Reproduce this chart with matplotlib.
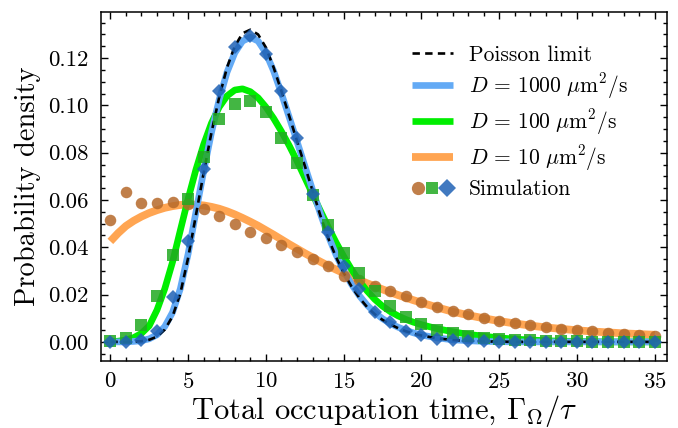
import matplotlib
matplotlib.use("Agg")
import matplotlib.pyplot as plt
from matplotlib.legend_handler import HandlerTuple
from matplotlib.ticker import MultipleLocator

plt.rcParams['font.family'] = 'serif'
plt.rcParams['font.serif'] = ['cmr10']
plt.rcParams['mathtext.fontset'] = 'cm'
plt.rcParams['axes.formatter.use_mathtext'] = True

# curves: x = 0, 0.5, ..., 20, then 21..35
x_curve = [i * 0.5 for i in range(41)] + list(range(21, 36))

poisson = [0, 0, 0, 0.0001, 0.0003, 0.0009, 0.0022, 0.0052, 0.0108, 0.0205,
           0.0355, 0.0535, 0.0715, 0.0885, 0.1035, 0.1160, 0.1250, 0.1305, 0.1320, 0.1300,
           0.1245, 0.1160, 0.1060, 0.0955, 0.0850, 0.0745, 0.0640, 0.0535, 0.0440, 0.0360,
           0.0292, 0.0235, 0.0187, 0.0148, 0.0117, 0.0093, 0.0074, 0.0058, 0.0045, 0.0035,
           0.0027,
           0.0015, 0.0008, 0.0004, 0.0002, 0.0001, 0, 0, 0, 0, 0, 0, 0, 0, 0, 0]

d1000 = [0, 0, 0, 0.0002, 0.0005, 0.0013, 0.0030, 0.0065, 0.0125, 0.0225,
         0.0372, 0.0548, 0.0722, 0.0885, 0.1025, 0.1140, 0.1222, 0.1272, 0.1288, 0.1272,
         0.1222, 0.1145, 0.1050, 0.0950, 0.0848, 0.0745, 0.0643, 0.0543, 0.0450, 0.0370,
         0.0302, 0.0244, 0.0196, 0.0156, 0.0124, 0.0098, 0.0078, 0.0062, 0.0049, 0.0038,
         0.0029,
         0.0017, 0.0009, 0.0005, 0.0002, 0.0001, 0, 0, 0, 0, 0, 0, 0, 0, 0, 0]

d100 = [0.0, 0.0003, 0.0008, 0.0018, 0.0036, 0.0068, 0.0135, 0.0225, 0.0338, 0.0472,
        0.0605, 0.0728, 0.0835, 0.0925, 0.0993, 0.1040, 0.1065, 0.1070, 0.1058, 0.1032,
        0.0993, 0.0945, 0.0890, 0.0830, 0.0765, 0.0695, 0.0625, 0.0555, 0.0487, 0.0422,
        0.0362, 0.0307, 0.0258, 0.0216, 0.0180, 0.0151, 0.0128, 0.0110, 0.0095, 0.0083,
        0.0073,
        0.0056, 0.0043, 0.0032, 0.0024, 0.0017, 0.0012, 0.0008, 0.0005, 0.0003, 0.0002,
        0.0001, 0, 0, 0, 0]

d10 = [0.0425, 0.0460, 0.0490, 0.0512, 0.0530, 0.0545, 0.0557, 0.0567, 0.0574, 0.0579,
       0.0581, 0.0580, 0.0577, 0.0571, 0.0563, 0.0552, 0.0539, 0.0524, 0.0508, 0.0491,
       0.0472, 0.0453, 0.0433, 0.0413, 0.0394, 0.0375, 0.0357, 0.0339, 0.0322, 0.0306,
       0.0291, 0.0276, 0.0262, 0.0248, 0.0235, 0.0222, 0.0210, 0.0198, 0.0187, 0.0176,
       0.0166,
       0.0146, 0.0128, 0.0113, 0.0100, 0.0088, 0.0078, 0.0069, 0.0061, 0.0055, 0.0049,
       0.0044, 0.0040, 0.0036, 0.0033, 0.0030]

# simulation, x = 0..35
x_sim = list(range(36))
sim10 = [0.0517, 0.0635, 0.0588, 0.0588, 0.0592, 0.0584, 0.0560, 0.0534, 0.0498, 0.0464,
         0.0438, 0.0410, 0.0379, 0.0352, 0.0322, 0.0280, 0.0262, 0.0237, 0.0216, 0.0192,
         0.0168, 0.0147, 0.0129, 0.0116, 0.0103, 0.0090, 0.0081, 0.0073, 0.0062, 0.0054,
         0.0051, 0.0044, 0.0037, 0.0033, 0.0030, 0.0025]
sim100 = [0.0002, 0.0016, 0.0072, 0.0192, 0.0369, 0.0606, 0.0782, 0.0941, 0.1005, 0.1019,
          0.0970, 0.0864, 0.0758, 0.0623, 0.0496, 0.0376, 0.0290, 0.0216, 0.0150, 0.0107,
          0.0074, 0.0049, 0.0036, 0.0024, 0.0017, 0.0012, 0.0009, 0.0006, 0.0004, 0.0003,
          0.0002, 0.0001, 0.0001, 0, 0, 0]
sim1000 = [0.0, 0.0001, 0.0008, 0.0044, 0.0190, 0.0428, 0.0733, 0.1061, 0.1245, 0.1294,
           0.1217, 0.1061, 0.0864, 0.0626, 0.0465, 0.0321, 0.0222, 0.0125, 0.0082, 0.0047,
           0.0028, 0.0014, 0.0007, 0.0004, 0.0002, 0.0001, 0, 0, 0, 0,
           0, 0, 0, 0, 0, 0]

fig = plt.figure(figsize=(6.78, 4.28), dpi=100)
ax = fig.add_axes([0.149, 0.157, 0.835, 0.815])

l10, = ax.plot(x_curve, d10, color='#ffa552', lw=5.6, solid_capstyle='butt',
               label=r'$D\,=\,10\ \mu\mathrm{m}^2/\mathrm{s}$')
l100, = ax.plot(x_curve, d100, color='#00ee00', lw=4.8, solid_capstyle='butt',
                label=r'$D\,=\,100\ \mu\mathrm{m}^2/\mathrm{s}$')
l1000, = ax.plot(x_curve, d1000, color='#63aaf5', lw=4.8, solid_capstyle='butt',
                 label=r'$D\,=\,1000\ \mu\mathrm{m}^2/\mathrm{s}$')
lp, = ax.plot(x_curve, poisson, color='black', lw=1.9, ls=(0, (2.8, 2.0)), label='Poisson limit')

m10, = ax.plot(x_sim, sim10, 'o', color='#b5692a', alpha=0.85, ms=8.3, mew=0, ls='none')
m100, = ax.plot(x_sim, sim100, 's', color='#22aa22', alpha=0.85, ms=8.0, mew=0, ls='none')
m1000, = ax.plot(x_sim, sim1000, 'D', color='#1f62b5', alpha=0.85, ms=7.6, mew=0, ls='none')

ax.set_xlim(-0.6, 35.8)
ax.set_ylim(-0.008, 0.1395)
ax.xaxis.set_major_locator(MultipleLocator(5))
ax.xaxis.set_minor_locator(MultipleLocator(1))
ax.yaxis.set_major_locator(MultipleLocator(0.02))
ax.yaxis.set_minor_locator(MultipleLocator(0.005))
ax.yaxis.set_major_formatter(plt.FormatStrFormatter('%.2f'))
ax.tick_params(which='both', direction='in', top=True, right=True, labelsize=16.5)
ax.tick_params(which='major', length=5, width=1)
ax.tick_params(which='minor', length=3, width=1)
ax.tick_params(axis='x', pad=8)
ax.tick_params(axis='y', pad=9)
for s in ax.spines.values():
    s.set_linewidth(1.1)

ax.set_xlabel(r'Total occupation time, $\Gamma_\Omega/\tau$', fontsize=22, labelpad=1)
ax.set_ylabel('Probability density', fontsize=20.5, labelpad=5)

ax.legend([lp, l1000, l100, l10, (m10, m100, m1000)],
          ['Poisson limit', l1000.get_label(), l100.get_label(), l10.get_label(), 'Simulation'],
          handler_map={tuple: HandlerTuple(ndivide=None, pad=0.1)},
          loc='upper left', bbox_to_anchor=(0.534, 0.93), frameon=False, fontsize=15.5,
          handlelength=1.9, handletextpad=0.75, borderaxespad=0.0, labelspacing=0.3,
          markerscale=1.15)

fig.savefig('out.png', dpi=100)
